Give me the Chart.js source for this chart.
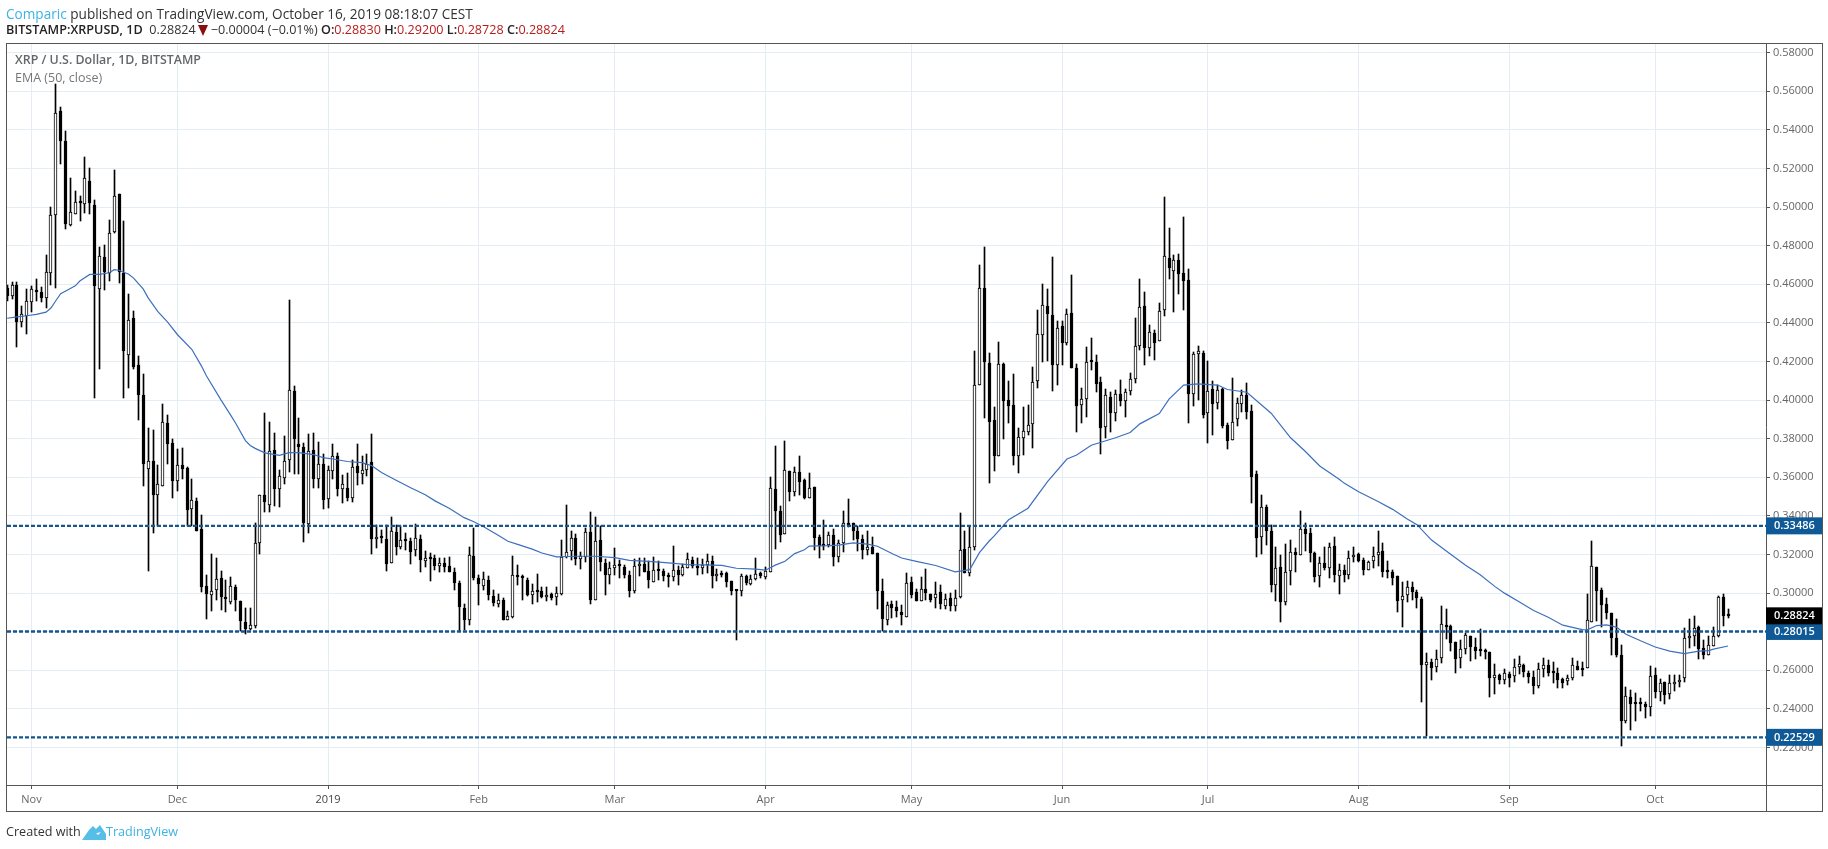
<!DOCTYPE html>
<html>
<head>
<meta charset="utf-8">
<title>XRP / U.S. Dollar</title>
<script src="https://cdn.jsdelivr.net/npm/chart.js@4"></script>
<style>
  html, body { margin: 0; padding: 0; background: #fff; }
  #wrap { position: relative; width: 1828px; height: 849px; overflow: hidden; font-family: "Open Sans", sans-serif; color: #333; }
  #wrap canvas { position: absolute; left: 0; top: 0; }
  .line { position: absolute; left: 6px; white-space: nowrap; font-size: 12.6px; line-height: 16px; }
  .blue { color: #3bb3e4; }
  .red { color: #b71c1c; }
  b { color: #222; font-weight: 600; }
  .tri { display: inline-block; width: 0; height: 0; border-left: 5px solid transparent; border-right: 5px solid transparent; border-top: 11px solid #8b0d0d; margin: 0 3px 0 2px; vertical-align: -2px; }
</style>
</head>
<body>
<div id="wrap">
  <canvas id="xrp_chart" width="1828" height="849"></canvas>
  <div class="line" style="top:6px;font-size:13.6px"><span class="blue">Comparic</span> published on TradingView.com, October 16, 2019 08:18:07 CEST</div>
  <div class="line" style="top:22px"><b>BITSTAMP:XRPUSD, 1D</b>&nbsp; 0.28824<span class="tri"></span>−0.00004 (−0.01%) <b>O:</b><span class="red">0.28830</span> <b>H:</b><span class="red">0.29200</span> <b>L:</b><span class="red">0.28728</span> <b>C:</b><span class="red">0.28824</span></div>
  <div class="line" style="top:824px">Created with</div>
  <svg style="position:absolute;left:82px;top:823px" width="24" height="17" viewBox="0 0 24 17"><path d="M0 17 L7 7 L11 3 L14 6 L18 2 L24 11 L24 17 Z M8 12 L12 8 L16 12 L19 9" fill="#55bfe8"/></svg>
  <div class="line blue" style="top:824px;left:106px">TradingView</div>
</div>
<script>
//Setup data: daily candles from Oct 27 2018 to Oct 16 2019
const firstDay = -5 // days counted from Nov 1 2018
const opens = [
  0.4580,0.4541,0.4599,0.4406,0.4434,0.4510,0.4573,0.4560,0.4530,0.4661,
  0.4960,0.5497,0.5344,0.4907,0.4965,0.5027,0.5017,0.5136,0.5012,0.4578,
  0.4744,0.4661,0.4869,0.5069,0.4661,0.4236,0.4424,0.4181,0.4026,0.3644,
  0.3687,0.3510,0.3556,0.3883,0.3780,0.3582,0.3666,0.3649,0.3437,0.3475,
  0.3331,0.3037,0.2990,0.3016,0.3080,0.2975,0.2952,0.3033,0.2961,0.2851,
  0.2813,0.2832,0.3262,0.3506,0.3458,0.3743,0.3537,0.3594,0.3691,0.4047,
  0.3774,0.3757,0.3360,0.3743,0.3589,0.3671,0.3487,0.3635,0.3712,0.3540,
  0.3547,0.3494,0.3657,0.3618,0.3640,0.3678,0.3279,0.3286,0.3279,0.3157,
  0.3317,0.3239,0.3274,0.3270,0.3221,0.3279,0.3169,0.3181,0.3181,0.3143,
  0.3155,0.3140,0.3112,0.3052,0.2923,0.2859,0.3193,0.3078,0.3035,0.3067,
  0.2987,0.2942,0.2964,0.2859,0.2877,0.3090,0.3088,0.3069,0.2988,0.3016,
  0.3011,0.2978,0.2993,0.2981,0.2995,0.3188,0.3217,0.3286,0.3176,0.3188,
  0.3317,0.2966,0.3277,0.3158,0.3093,0.3131,0.3148,0.3138,0.3096,0.3009,
  0.3139,0.3153,0.3117,0.3060,0.3122,0.3117,0.3091,0.3083,0.3121,0.3093,
  0.3131,0.3172,0.3143,0.3129,0.3146,0.3167,0.3088,0.3098,0.3102,0.3064,
  0.3016,0.3010,0.3091,0.3045,0.3072,0.3105,0.3083,0.3112,0.3538,0.3425,
  0.3305,0.3631,0.3526,0.3626,0.3587,0.3495,0.3549,0.3292,0.3255,0.3249,
  0.3303,0.3186,0.3260,0.3363,0.3363,0.3322,0.3280,0.3222,0.3239,0.3208,
  0.3012,0.2861,0.2945,0.2926,0.2904,0.2876,0.3059,0.3004,0.2959,0.3022,
  0.2998,0.2974,0.3007,0.2933,0.2976,0.2933,0.2979,0.3229,0.3105,0.3239,
  0.4078,0.4580,0.4192,0.3898,0.3708,0.4188,0.4000,0.3974,0.3713,0.3806,
  0.3837,0.3875,0.4097,0.4337,0.4487,0.4440,0.4180,0.4385,0.4295,0.4451,
  0.4166,0.3977,0.4005,0.4202,0.4200,0.4093,0.3860,0.4014,0.3932,0.4031,
  0.3993,0.4046,0.4112,0.4280,0.4487,0.4268,0.4347,0.4304,0.4465,0.4736,
  0.4667,0.4727,0.4658,0.4622,0.4034,0.4237,0.4243,0.3932,0.4057,0.3984,
  0.4057,0.3870,0.3792,0.3901,0.3979,0.4026,0.3943,0.3618,0.3291,0.3446,
  0.3324,0.3043,0.3136,0.2954,0.3114,0.3214,0.3196,0.3334,0.3313,0.3210,
  0.3088,0.3157,0.3131,0.3246,0.3088,0.3121,0.3093,0.3186,0.3203,0.3174,
  0.3121,0.3169,0.3198,0.3219,0.3115,0.3110,0.3088,0.2966,0.2992,0.3033,
  0.3007,0.2971,0.2630,0.2641,0.2618,0.2665,0.2837,0.2832,0.2749,0.2665,
  0.2713,0.2780,0.2723,0.2708,0.2708,0.2696,0.2562,0.2575,0.2549,0.2583,
  0.2569,0.2616,0.2629,0.2588,0.2567,0.2518,0.2607,0.2629,0.2588,0.2586,
  0.2557,0.2543,0.2559,0.2624,0.2614,0.2610,0.2853,0.3133,0.3016,0.2942,
  0.2896,0.2767,0.2679,0.2337,0.2463,0.2433,0.2433,0.2426,0.2411,0.2576,
  0.2488,0.2540,0.2476,0.2528,0.2540,0.2559,0.2765,0.2776,0.2825,0.2714,
  0.2678,0.2724,0.2776,0.2979,0.28830
];
const closes = [
  0.4541,0.4599,0.4403,0.4444,0.4511,0.4578,0.4561,0.4530,0.4666,0.4960,
  0.5487,0.5340,0.4912,0.4976,0.5026,0.5021,0.5151,0.5021,0.4592,0.4749,
  0.4664,0.4867,0.5058,0.4664,0.4252,0.4413,0.4174,0.4025,0.3669,0.3687,
  0.3510,0.3563,0.3888,0.3773,0.3582,0.3666,0.3644,0.3432,0.3480,0.3324,
  0.3030,0.2994,0.3009,0.3073,0.2978,0.2968,0.3036,0.2962,0.2854,0.2816,
  0.2835,0.3262,0.3508,0.3473,0.3738,0.3540,0.3609,0.3687,0.4052,0.3798,
  0.3757,0.3365,0.3737,0.3589,0.3671,0.3484,0.3640,0.3712,0.3540,0.3568,
  0.3492,0.3651,0.3623,0.3640,0.3671,0.3279,0.3289,0.3284,0.3153,0.3320,
  0.3241,0.3274,0.3270,0.3214,0.3284,0.3174,0.3184,0.3179,0.3141,0.3155,
  0.3138,0.3112,0.3052,0.2926,0.2863,0.3196,0.3076,0.3045,0.3073,0.2988,
  0.2949,0.2966,0.2859,0.2882,0.3093,0.3086,0.3076,0.2988,0.3011,0.3004,
  0.2980,0.2990,0.2973,0.3002,0.3188,0.3213,0.3286,0.3176,0.3191,0.3317,
  0.2967,0.3270,0.3160,0.3093,0.3131,0.3145,0.3139,0.3096,0.3009,0.3141,
  0.3151,0.3112,0.3069,0.3121,0.3115,0.3088,0.3084,0.3121,0.3093,0.3138,
  0.3177,0.3139,0.3129,0.3146,0.3167,0.3088,0.3098,0.3095,0.3060,0.3010,
  0.3012,0.3090,0.3052,0.3074,0.3100,0.3088,0.3115,0.3544,0.3423,0.3299,
  0.3636,0.3526,0.3626,0.3578,0.3492,0.3544,0.3284,0.3243,0.3243,0.3303,
  0.3186,0.3260,0.3363,0.3349,0.3320,0.3279,0.3222,0.3239,0.3205,0.3010,
  0.2864,0.2940,0.2923,0.2907,0.2886,0.3053,0.2988,0.2959,0.3022,0.3002,
  0.2967,0.2997,0.2942,0.2971,0.2933,0.2976,0.3224,0.3105,0.3239,0.4078,
  0.4580,0.4200,0.3889,0.3708,0.4186,0.3993,0.3967,0.3708,0.3808,0.3839,
  0.3870,0.4093,0.4342,0.4491,0.4444,0.4180,0.4373,0.4295,0.4446,0.4164,
  0.3972,0.4005,0.4197,0.4198,0.4083,0.3858,0.4024,0.3932,0.4031,0.3998,
  0.4041,0.4109,0.4280,0.4482,0.4268,0.4352,0.4294,0.4461,0.4746,0.4684,
  0.4726,0.4651,0.4615,0.4034,0.4240,0.4252,0.3924,0.4046,0.3979,0.4052,
  0.3868,0.3789,0.3889,0.3984,0.4024,0.3936,0.3604,0.3284,0.3446,0.3320,
  0.3042,0.3131,0.2954,0.3110,0.3212,0.3196,0.3332,0.3305,0.3207,0.3083,
  0.3157,0.3128,0.3239,0.3093,0.3121,0.3093,0.3183,0.3198,0.3167,0.3119,
  0.3162,0.3191,0.3212,0.3109,0.3109,0.3079,0.2959,0.2985,0.3033,0.3005,
  0.2974,0.2629,0.2641,0.2612,0.2661,0.2839,0.2825,0.2742,0.2658,0.2713,
  0.2782,0.2722,0.2701,0.2699,0.2696,0.2562,0.2574,0.2551,0.2586,0.2562,
  0.2619,0.2633,0.2590,0.2567,0.2518,0.2609,0.2628,0.2586,0.2585,0.2552,
  0.2537,0.2562,0.2629,0.2602,0.2604,0.2860,0.3140,0.3011,0.2936,0.2896,
  0.2765,0.2678,0.2337,0.2468,0.2426,0.2425,0.2425,0.2409,0.2573,0.2487,
  0.2535,0.2471,0.2535,0.2540,0.2550,0.2767,0.2777,0.2819,0.2709,0.2678,
  0.2731,0.2777,0.2980,0.2884,0.28824
];
const highs = [
  0.4596,0.4611,0.4611,0.4486,0.4578,0.4590,0.4627,0.4584,0.4750,0.5003,
  0.5640,0.5518,0.5394,0.5151,0.5086,0.5057,0.5260,0.5201,0.5038,0.4795,
  0.4802,0.4931,0.5194,0.5069,0.4926,0.4548,0.4461,0.4229,0.4136,0.3853,
  0.3843,0.3663,0.3981,0.3921,0.3797,0.3749,0.3754,0.3654,0.3590,0.3491,
  0.3405,0.3095,0.3203,0.3183,0.3114,0.3067,0.3083,0.3042,0.2961,0.2921,
  0.2923,0.3363,0.3508,0.3934,0.3888,0.3831,0.3640,0.3812,0.4518,0.4073,
  0.3909,0.3778,0.3823,0.3831,0.3783,0.3723,0.3657,0.3774,0.3726,0.3611,
  0.3620,0.3692,0.3771,0.3709,0.3723,0.3823,0.3351,0.3327,0.3351,0.3393,
  0.3351,0.3348,0.3310,0.3284,0.3358,0.3301,0.3219,0.3207,0.3198,0.3181,
  0.3181,0.3186,0.3129,0.3061,0.2944,0.3238,0.3336,0.3093,0.3109,0.3090,
  0.3018,0.2997,0.2975,0.2909,0.3195,0.3147,0.3095,0.3078,0.3049,0.3100,
  0.3030,0.3031,0.3002,0.3034,0.3277,0.3458,0.3323,0.3306,0.3213,0.3337,
  0.3420,0.3394,0.3346,0.3177,0.3162,0.3234,0.3174,0.3148,0.3114,0.3177,
  0.3182,0.3184,0.3165,0.3186,0.3165,0.3126,0.3105,0.3246,0.3143,0.3151,
  0.3208,0.3188,0.3182,0.3177,0.3203,0.3191,0.3124,0.3115,0.3109,0.3064,
  0.3016,0.3100,0.3096,0.3096,0.3184,0.3112,0.3138,0.3600,0.3762,0.3449,
  0.3788,0.3631,0.3652,0.3710,0.3590,0.3621,0.3549,0.3303,0.3380,0.3315,
  0.3332,0.3277,0.3427,0.3487,0.3363,0.3346,0.3303,0.3320,0.3291,0.3208,
  0.3074,0.2954,0.2957,0.2960,0.2938,0.3105,0.3084,0.3019,0.3084,0.3126,
  0.2998,0.3059,0.3043,0.2998,0.3002,0.3017,0.3415,0.3323,0.3346,0.4256,
  0.4701,0.4793,0.4243,0.3964,0.4300,0.4192,0.4100,0.4135,0.3855,0.3964,
  0.3976,0.4173,0.4468,0.4603,0.4577,0.4741,0.4411,0.4411,0.4472,0.4650,
  0.4186,0.4064,0.4275,0.4321,0.4235,0.4119,0.4057,0.4043,0.4050,0.4105,
  0.4057,0.4140,0.4425,0.4629,0.4560,0.4390,0.4364,0.4503,0.5052,0.4891,
  0.4753,0.4758,0.4948,0.4679,0.4250,0.4281,0.4252,0.4204,0.4097,0.4079,
  0.4062,0.3881,0.4114,0.4010,0.4050,0.4088,0.3974,0.3633,0.3509,0.3458,
  0.3355,0.3239,0.3198,0.3257,0.3277,0.3234,0.3425,0.3363,0.3337,0.3214,
  0.3188,0.3239,0.3260,0.3291,0.3152,0.3146,0.3220,0.3239,0.3207,0.3181,
  0.3165,0.3239,0.3324,0.3260,0.3167,0.3119,0.3091,0.3060,0.3064,0.3060,
  0.3014,0.2981,0.2692,0.2658,0.2704,0.2933,0.2916,0.2833,0.2749,0.2756,
  0.2792,0.2780,0.2770,0.2813,0.2710,0.2696,0.2632,0.2581,0.2607,0.2590,
  0.2659,0.2676,0.2633,0.2598,0.2595,0.2638,0.2664,0.2654,0.2643,0.2614,
  0.2561,0.2574,0.2665,0.2650,0.2643,0.2996,0.3269,0.3133,0.3025,0.2973,
  0.2896,0.2865,0.2731,0.2512,0.2500,0.2483,0.2457,0.2435,0.2624,0.2612,
  0.2557,0.2540,0.2574,0.2574,0.2574,0.2820,0.2867,0.2881,0.2829,0.2758,
  0.2776,0.2824,0.2985,0.2996,0.29200
];
const lows = [
  0.4515,0.4523,0.4277,0.4381,0.4343,0.4456,0.4511,0.4510,0.4479,0.4597,
  0.4580,0.5222,0.4886,0.4900,0.4965,0.4928,0.4972,0.4962,0.4009,0.4159,
  0.4572,0.4615,0.4867,0.4606,0.4009,0.4061,0.4162,0.3896,0.3557,0.3117,
  0.3313,0.3348,0.3556,0.3671,0.3494,0.3530,0.3592,0.3348,0.3348,0.3324,
  0.3004,0.2866,0.2906,0.2966,0.2914,0.2904,0.2945,0.2909,0.2803,0.2789,
  0.2808,0.2818,0.3203,0.3422,0.3422,0.3451,0.3448,0.3568,0.3629,0.3616,
  0.3616,0.3267,0.3313,0.3546,0.3546,0.3437,0.3442,0.3590,0.3503,0.3468,
  0.3479,0.3472,0.3561,0.3565,0.3609,0.3203,0.3236,0.3262,0.3117,0.3157,
  0.3198,0.3229,0.3224,0.3153,0.3190,0.3109,0.3138,0.3061,0.3121,0.3107,
  0.3107,0.3112,0.3014,0.2806,0.2811,0.2834,0.3070,0.2937,0.3014,0.2962,
  0.2931,0.2928,0.2859,0.2859,0.2871,0.3040,0.2966,0.2983,0.2945,0.2954,
  0.2975,0.2957,0.2967,0.2938,0.2990,0.3181,0.3170,0.3145,0.3124,0.3162,
  0.2943,0.2966,0.3114,0.2990,0.3048,0.3096,0.3077,0.3077,0.2979,0.3002,
  0.3088,0.3112,0.3026,0.3057,0.3067,0.3062,0.3034,0.3062,0.3041,0.3088,
  0.3131,0.3132,0.3095,0.3098,0.3102,0.3026,0.3062,0.3083,0.3031,0.2990,
  0.2758,0.2985,0.3041,0.3040,0.3067,0.3081,0.3074,0.3108,0.3229,0.3263,
  0.3305,0.3475,0.3504,0.3509,0.3487,0.3492,0.3225,0.3181,0.3222,0.3240,
  0.3139,0.3163,0.3213,0.3342,0.3277,0.3217,0.3177,0.3196,0.3205,0.2916,
  0.2806,0.2835,0.2873,0.2875,0.2833,0.2876,0.2974,0.2959,0.2959,0.2962,
  0.2955,0.2923,0.2919,0.2916,0.2907,0.2907,0.2974,0.3102,0.3088,0.3225,
  0.4078,0.3905,0.3569,0.3635,0.3708,0.3801,0.3884,0.3665,0.3625,0.3716,
  0.3817,0.3754,0.4065,0.4195,0.4204,0.4045,0.4076,0.4183,0.4283,0.4164,
  0.3837,0.3884,0.3915,0.4157,0.4040,0.3720,0.3806,0.3837,0.3894,0.3967,
  0.3915,0.4024,0.4088,0.4261,0.4180,0.4226,0.4209,0.4304,0.4434,0.4627,
  0.4459,0.4551,0.4465,0.3884,0.3967,0.4001,0.3907,0.3777,0.3817,0.3955,
  0.3855,0.3746,0.3792,0.3868,0.3941,0.3903,0.3466,0.3186,0.3203,0.3250,
  0.3005,0.2959,0.2851,0.2938,0.3043,0.3109,0.3196,0.3217,0.3160,0.3060,
  0.3031,0.3119,0.3079,0.3059,0.2997,0.3059,0.3071,0.3162,0.3160,0.3093,
  0.3118,0.3128,0.3143,0.3083,0.3076,0.3040,0.2902,0.2825,0.2954,0.2966,
  0.2923,0.2438,0.2259,0.2551,0.2593,0.2637,0.2761,0.2701,0.2586,0.2612,
  0.2686,0.2649,0.2661,0.2675,0.2658,0.2464,0.2479,0.2529,0.2531,0.2512,
  0.2540,0.2583,0.2567,0.2534,0.2475,0.2507,0.2567,0.2569,0.2537,0.2511,
  0.2511,0.2526,0.2550,0.2602,0.2573,0.2610,0.2853,0.2858,0.2827,0.2865,
  0.2681,0.2669,0.2208,0.2325,0.2291,0.2339,0.2389,0.2352,0.2363,0.2457,
  0.2440,0.2425,0.2449,0.2492,0.2516,0.2542,0.2717,0.2724,0.2660,0.2659,
  0.2678,0.2724,0.2775,0.2830,0.28728
];

//EMA (50, close) at these days
const emaDays = [-5,-3,-1,1,3,4,5,6,8,9,10,12,14,16,17,18,20,21,23,24,26,28,30,33,35,36,39,41,42,44,45,46,48,51,53,55,58,60,62,65,68,70,72,75,78,81,83,86,89,91,93,96,98,100,103,105,108,112,116,120,123,127,131,135,138,142,145,149,151,153,155,157,159,160,164,166,169,172,174,177,179,182,186,190,193,195,197,198,201,205,209,213,215,218,223,226,228,232,234,237,240,244,246,250,255,259,262,265,269,270,273,277,280,283,285,288,292,295,298,301,303,306,309,312,315,319,320,322,324,326,328,331,334,337,340,343,345,346,349];
const emaValues = [0.4424,0.4431,0.4437,0.4444,0.4456,0.4477,0.4515,0.4551,0.4578,0.4592,0.4618,0.4651,0.4651,0.4660,0.4676,0.4673,0.4652,0.4632,0.4575,0.4530,0.4458,0.4404,0.4340,0.4262,0.4175,0.4125,0.4000,0.3921,0.3880,0.3790,0.3765,0.3750,0.3727,0.3714,0.3728,0.3728,0.3718,0.3702,0.3695,0.3682,0.3676,0.3660,0.3625,0.3585,0.3546,0.3510,0.3478,0.3439,0.3391,0.3370,0.3344,0.3300,0.3269,0.3253,0.3228,0.3208,0.3188,0.3191,0.3191,0.3184,0.3170,0.3165,0.3157,0.3148,0.3146,0.3144,0.3129,0.3124,0.3119,0.3145,0.3165,0.3205,0.3225,0.3244,0.3246,0.3249,0.3260,0.3254,0.3243,0.3205,0.3182,0.3165,0.3143,0.3110,0.3122,0.3210,0.3270,0.3295,0.3380,0.3440,0.3578,0.3695,0.3716,0.3766,0.3805,0.3832,0.3877,0.3930,0.4005,0.4078,0.4084,0.4078,0.4055,0.4041,0.3932,0.3805,0.3735,0.3659,0.3590,0.3570,0.3525,0.3475,0.3434,0.3384,0.3355,0.3275,0.3200,0.3145,0.3095,0.3035,0.3000,0.2955,0.2910,0.2875,0.2834,0.2811,0.2810,0.2832,0.2836,0.2824,0.2787,0.2753,0.2721,0.2700,0.2687,0.2700,0.2702,0.2710,0.2726];

//Horizontal levels and axis ticks
const levels = [0.33486, 0.28015, 0.22529];
const lastPrice = 0.28824;
const priceTicks = [0.22,0.24,0.26,0.28,0.30,0.32,0.34,0.36,0.38,0.40,0.42,0.44,0.46,0.48,0.50,0.52,0.54,0.56,0.58];
const monthDays = [0,30,61,92,120,151,181,212,242,273,304,334];
const monthLabels = ["Nov","Dec","2019","Feb","Mar","Apr","May","Jun","Jul","Aug","Sep","Oct"];

const xMin = -5.04, xMax = 356.8;
const yMin = 0.2006, yMax = 0.5845;
const font = '"Open Sans", sans-serif';

//------------------------------------------

//Build datasets
const wickData = highs.map((h, i) => ({x: firstDay + i, y: [lows[i], h]}));
const bodyData = opens.map((o, i) => ({x: firstDay + i, y: [o, closes[i]]}));
const emaData = emaDays.map((d, i) => ({x: d, y: emaValues[i]}));

const levelSets = levels.map(l => ({
  type: "line",
  data: [{x: xMin, y: l}, {x: xMax, y: l}],
  borderColor: "#15568f",
  borderWidth: 2.4,
  borderDash: [4, 2],
  pointRadius: 0,
  order: 0,
}));

//------------------------------------------

//snap the candles to whole pixels so they stay sharp
const snapCandles = {
  id: "snapCandles",
  beforeDatasetsDraw(chart) {
    chart.getSortedVisibleDatasetMetas().forEach(meta => {
      if (meta.type !== "bar") return;
      meta.data.forEach(bar => {
        bar.x = Math.floor(bar.x) + 0.5;
        bar.y = Math.round(bar.y);
        bar.base = Math.round(bar.base);
      });
    });
  }
};

//frame, titles and price tags
const decorations = {
  id: "decorations",
  beforeDatasetsDraw(chart) {
    const {ctx, chartArea: {top}} = chart;
    ctx.save();
    ctx.textBaseline = "middle";
    ctx.font = "600 12.4px " + font;
    ctx.fillStyle = "#666";
    ctx.fillText("XRP / U.S. Dollar, 1D, BITSTAMP", 15, top + 16);
    ctx.font = "12.5px " + font;
    ctx.fillStyle = "#777";
    ctx.fillText("EMA (50, close)", 15, top + 34);
    ctx.restore();
  },
  afterDraw(chart) {
    const {ctx, scales: {y}, chartArea: {right, bottom}} = chart;
    ctx.save();
    ctx.strokeStyle = "#555";
    ctx.lineWidth = 1;
    ctx.strokeRect(6.5, 43.5, 1816, 768);
    ctx.beginPath();
    ctx.moveTo(right + 0.5, 43.5);
    ctx.lineTo(right + 0.5, 811.5);
    ctx.moveTo(6.5, bottom + 0.5);
    ctx.lineTo(1822.5, bottom + 0.5);
    ctx.stroke();

    const tag = (value, color) => {
      const py = y.getPixelForValue(value);
      ctx.fillStyle = color;
      ctx.fillRect(right, py - 8.5, 56, 17);
      ctx.fillStyle = "#fff";
      ctx.font = "600 11px " + font;
      ctx.textBaseline = "middle";
      ctx.fillText(value.toFixed(5), right + 8, py + 0.5);
    };
    levels.forEach(l => tag(l, "#0f5a96"));
    tag(lastPrice, "#000");
    ctx.restore();
  }
};

//------------------------------------------

//Configuration
const config = {
  type: "bar",
  data: {
    datasets: [
      ...levelSets,
      {type: "line", data: emaData, borderColor: "#3d6fbd", borderWidth: 1.2, pointRadius: 0, order: 1},
      {
        data: bodyData,
        backgroundColor: c => (closes[c.dataIndex] >= opens[c.dataIndex] ? "#fff" : "#000"),
        borderColor: "#000",
        borderWidth: 1,
        borderSkipped: false,
        barThickness: 3,
        minBarLength: 2,
        grouped: false,
        order: 2,
      },
      {data: wickData, backgroundColor: "#000", barThickness: 1, grouped: false, order: 3},
    ],
  },
  options: {
    responsive: false,
    animation: false,
    devicePixelRatio: 1,
    layout: {autoPadding: false, padding: {left: 7, top: 44, right: 6, bottom: 37}},
    plugins: {legend: {display: false}, tooltip: {enabled: false}},
    scales: {
      x: {
        type: "linear",
        offset: false,
        min: xMin,
        max: xMax,
        afterBuildTicks: axis => { axis.ticks = monthDays.map(v => ({value: v})); },
        afterFit: axis => { axis.height = 27; },
        grid: {offset: false, color: "#e3edf3", tickColor: "#555", tickLength: 4},
        border: {display: false},
        ticks: {
          autoSkip: false,
          maxRotation: 0,
          padding: 4,
          color: c => (c.index === 2 ? "#444" : "#666"),
          font: {family: font, size: 11},
          callback: (v, i) => monthLabels[i],
        },
      },
      y: {
        position: "right",
        min: yMin,
        max: yMax,
        afterBuildTicks: axis => { axis.ticks = priceTicks.map(v => ({value: v})); },
        afterFit: axis => { axis.width = 56; },
        grid: {color: "#e3edf3", tickColor: "#555", tickLength: 4},
        border: {display: false},
        ticks: {
          padding: 3,
          color: "#666",
          font: {family: font, size: 11},
          callback: v => v.toFixed(5),
        },
      },
    },
  },
  plugins: [snapCandles, decorations],
};

//Render
const xrp_chart = new Chart(document.getElementById("xrp_chart"), config);
</script>
</body>
</html>
